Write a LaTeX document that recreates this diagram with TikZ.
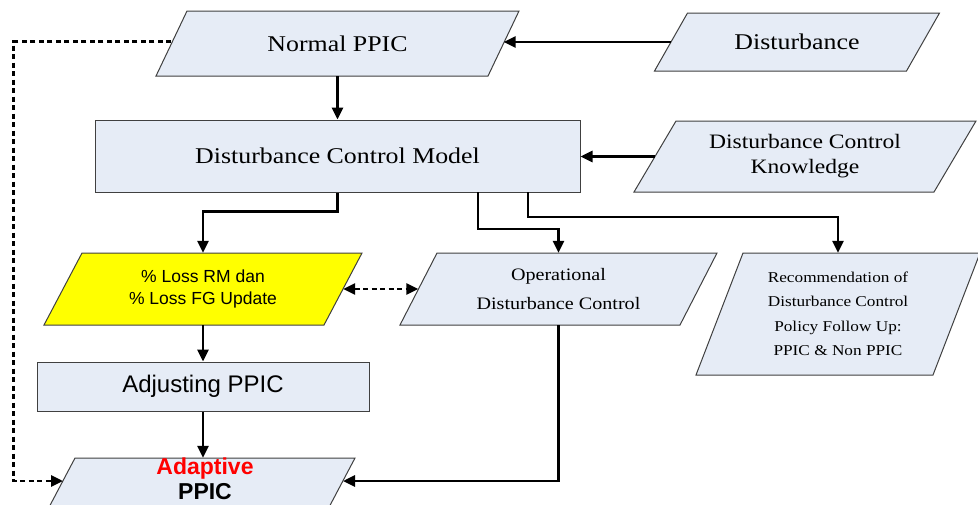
\documentclass[tikz,border=0pt]{standalone}
\usepackage{fontspec}
\setmainfont{Liberation Serif}[FakeStretch=1.15]
\newfontfamily\arialf{Liberation Sans}
\usetikzlibrary{arrows.meta,backgrounds}
\definecolor{boxfill}{RGB}{230,236,246}
\definecolor{boxline}{RGB}{64,64,64}
\definecolor{lossy}{RGB}{255,255,0}
\tikzset{
  boxrect/.style={draw=boxline,line width=1pt,fill=boxfill,inner sep=0pt,align=center},
  paranode/.style={inner sep=0pt,align=center},
  flow/.style={line width=2.8pt,-{Triangle[length=12pt,width=11pt]}},
  dotflow/.style={line width=2.8pt,dash pattern=on 5pt off 3.5pt,-{Triangle[length=12pt,width=11pt]}},
  dotflowboth/.style={line width=2.8pt,dash pattern=on 5pt off 3.5pt,{Triangle[length=12pt,width=11pt]}-{Triangle[length=12pt,width=11pt]}},
}
% parallelogram: #1 name, #2 cx, #3 cy, #4 mid width, #5 height, #6 half slant, #7 fill, #8 font, #9 text
\newcommand{\parabox}[9]{%
  \fill[#7,draw=boxline,line width=1pt]
    ({#2-#4/2+#6},{#3-#5/2}) -- ({#2+#4/2+#6},{#3-#5/2}) --
    ({#2+#4/2-#6},{#3+#5/2}) -- ({#2-#4/2-#6},{#3+#5/2}) -- cycle;
  \node[paranode,minimum width=#4pt,minimum height=#5pt,font=#8] (#1) at (#2,#3) {#9};
}
\begin{document}
\begin{tikzpicture}[x=1pt,y=-1pt]
\useasboundingbox (0,0) rectangle (978,504);
\begin{scope}
\clip (0,0) rectangle (978,504);
\parabox{npp}{337.5}{43.5}{332}{65}{15.5}{boxfill}{\fontsize{22.5}{26}\selectfont}{Normal PPIC}
\parabox{dist}{797}{42}{252}{58}{16.5}{boxfill}{\fontsize{22.5}{26}\selectfont}{Disturbance}
\parabox{dck}{805}{156.5}{300}{71}{21}{boxfill}{\fontsize{20.5}{25}\selectfont}{Disturbance Control\\Knowledge}
\node[boxrect,minimum width=485pt,minimum height=72pt,font=\fontsize{22.5}{26}\selectfont] (dcm) at (337.5,156) {Disturbance Control Model};
\parabox{loss}{203}{289}{280}{72}{19}{lossy}{\arialf\fontsize{17.5}{22}\selectfont}{\% Loss RM dan\\\% Loss FG Update}
\parabox{op}{558.5}{289}{280}{72}{18.5}{boxfill}{\fontsize{17.5}{29}\selectfont}{Operational\\Disturbance Control}
\parabox{rec}{838}{314}{237}{122}{23.5}{boxfill}{\fontsize{15}{24.5}\selectfont}{Recommendation of\\Disturbance Control\\Policy Follow Up:\\PPIC \& Non PPIC}
\node[boxrect,minimum width=332pt,minimum height=49pt,font=\arialf\fontsize{24}{28}\selectfont] (adj) at (203,386.5) {Adjusting PPIC};
\parabox{ad}{196}{494}{280}{72}{19}{boxfill}{\arialf}{}
\node[paranode,font=\arialf\bfseries\fontsize{23}{25}\selectfont] (adtxt) at (205,479) {\textcolor{red}{Adaptive}\\PPIC};
\end{scope}
\coordinate (adL) at (63,481);
\coordinate (adR) at (343,481);
\coordinate (b1) at (478,192);
\coordinate (b2) at (528,192);
% connectors
\draw[flow] (dist.west) -- (npp.east |- dist.west);
\draw[flow] (npp.south) -- (dcm.north);
\draw[flow] (dck.west) -- (dcm.east |- dck.west);
\draw[flow] (dcm.south) -- ++(0,19) -| (loss.north);
\draw[flow] (b1) -- ++(0,37) -| (op.north);
\draw[flow] (b2) -- ++(0,25) -| (rec.north);
\draw[dotflowboth] (loss.east) -- (op.west);
\draw[flow] (loss.south) -- (adj.north);
\draw[flow] (adj.south) -- (adj.south |- ad.north);
\draw[flow] (op.south) |- (adR);
\draw[dotflow] (npp.west) ++(0,-2) -- ++(-157.5,0) |- (adL);
\end{tikzpicture}
\end{document}
